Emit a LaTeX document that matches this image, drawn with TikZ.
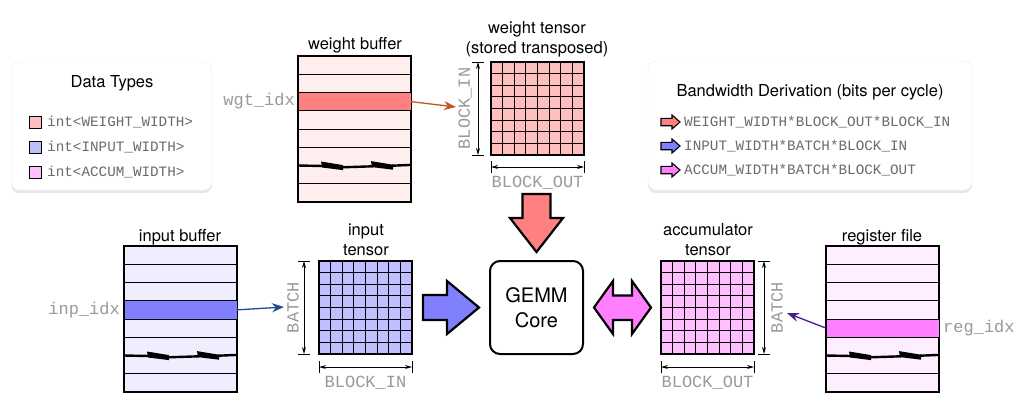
\documentclass[tikz,border=0pt]{standalone}
\usepackage{fontspec}
\setmainfont{TeX Gyre Heros}
\setmonofont{Liberation Mono}
\usetikzlibrary{calc,shadows,arrows.meta}
\definecolor{wlight}{HTML}{FFEEEE}
\definecolor{whigh}{HTML}{FF8080}
\definecolor{wcell}{HTML}{FFBFBF}
\definecolor{ilight}{HTML}{EEEEFF}
\definecolor{ihigh}{HTML}{8080FF}
\definecolor{icell}{HTML}{BFBFFF}
\definecolor{alight}{HTML}{FFEEFF}
\definecolor{ahigh}{HTML}{FF80FF}
\definecolor{acell}{HTML}{FFBFFF}
\definecolor{warrow}{HTML}{C2571A}
\definecolor{iarrow}{HTML}{1F4E8C}
\definecolor{aarrow}{HTML}{4B1A8C}
\definecolor{dimgrey}{HTML}{999999}
\definecolor{leggrey}{HTML}{6A6A6A}
\newcommand\bufbreak[1]{%
  \draw[line width=2.4pt, line cap=butt] ($(#1)$) -- ++(25,0.5);
  \fill ($(#1)+(23,-4)$) -- ++(22,3.6) -- ++(0,5) -- ++(-21,-2.6) -- cycle;
  \draw[line width=2.4pt, line cap=butt] ($(#1)+(44,1.8)$) -- ++(31,-1);
  \fill ($(#1)+(73,-4.4)$) -- ++(22,3.6) -- ++(0,5) -- ++(-21,-2.6) -- cycle;
  \draw[line width=2.4pt, line cap=butt] ($(#1)+(94,0.2)$) -- ++(19,-0.8);
}
\begin{document}
\begin{tikzpicture}[x=1pt,y=-1pt,
  buf/.style={draw, line width=1.2pt, minimum width=113pt, minimum height=146pt, inner sep=0pt, outer sep=0pt, anchor=north west},
  rowline/.style={line width=0.9pt},
  hrow/.style={draw, line width=0.9pt, minimum width=113pt, minimum height=18.25pt, inner sep=0pt, outer sep=0pt, anchor=north west},
  tensor/.style={draw, line width=1.2pt, minimum size=93pt, inner sep=0pt, outer sep=0pt, anchor=north west},
  cellline/.style={line width=0.9pt},
  dim/.style={line width=0.9pt, {Stealth[length=7pt,width=4pt]}-{Stealth[length=7pt,width=4pt]}},
  dimtick/.style={line width=0.9pt},
  dimlabel/.style={font=\ttfamily\fontsize{17}{18}\selectfont, text=dimgrey, inner sep=0pt},
  title/.style={font=\fontsize{16.5}{20}\selectfont, inner sep=0pt, align=center},
  idxlabel/.style={font=\ttfamily\fontsize{17}{18}\selectfont, text=dimgrey, inner sep=0pt},
  legtext/.style={font=\ttfamily\fontsize{14.3}{16}\selectfont, text=leggrey, inner sep=0pt, anchor=west},
  swatch/.style={draw, line width=0.9pt, minimum size=12pt, inner sep=0pt},
  panel/.style={draw=black!8, fill=white, rounded corners=8pt, drop shadow={shadow xshift=0pt, shadow yshift=-3pt, opacity=0.18}},
  bigarrow/.style={draw, line width=2.2pt, line join=miter},
  smallarrow/.style={draw, line width=1.1pt, line join=miter},
  conn/.style={line width=1.3pt, -{Stealth[length=12pt,width=9pt]}},
  gemmbox/.style={draw, line width=2pt, rounded corners=10pt, minimum width=93pt, minimum height=93pt, align=center, font=\fontsize{20}{25}\selectfont}
]
\useasboundingbox (0,0) rectangle (1024,400);

% ---------- panels ----------
\path[panel] (11,62) rectangle (212,190);
\path[panel] (648,61) rectangle (972,190);
\node[title] (dtitle) at (112,83) {Data Types};
\node[swatch, fill=wcell] (sw1) at (35,122) {};
\node[swatch, fill=icell] (sw2) at (35,147) {};
\node[swatch, fill=acell] (sw3) at (35,172) {};
\node[legtext] (lt1) at (47,122) {int<WEIGHT\_WIDTH>};
\node[legtext] (lt2) at (47,147) {int<INPUT\_WIDTH>};
\node[legtext] (lt3) at (47,172) {int<ACCUM\_WIDTH>};

\node[title] (btitle) at (810,92) {Bandwidth Derivation (bits per cycle)};
\foreach \yc/\col in {122/whigh,146/ihigh,170/ahigh}{
  \draw[smallarrow, fill=\col] (661,\yc-3.7) -- (672,\yc-3.7) -- (672,\yc-7) -- (680,\yc) -- (672,\yc+7) -- (672,\yc+3.7) -- (661,\yc+3.7) -- cycle;
}
\node[legtext] (bt1) at (684,122) {WEIGHT\_WIDTH*BLOCK\_OUT*BLOCK\_IN};
\node[legtext] (bt2) at (684,146) {INPUT\_WIDTH*BATCH*BLOCK\_IN};
\node[legtext] (bt3) at (684,170) {ACCUM\_WIDTH*BATCH*BLOCK\_OUT};

% ---------- weight buffer ----------
\node[title] (wbt) at (355,45) {weight buffer};
\node[buf, fill=wlight] (wbuf) at (298,56) {};
\foreach \k in {1,2,3,4,5,7}
  \draw[rowline] ($(wbuf.north west)+(0,\k*18.25)$) -- ++(113,0);
\node[hrow, fill=whigh] (wrow) at ($(wbuf.north west)+(0,2*18.25)$) {};
\coordinate (wbrk) at ($(wbuf.north west)+(0,6*18.25)$);
\bufbreak{wbrk}
\node[idxlabel, anchor=east] (widx) at (295,101) {wgt\_idx};

% ---------- weight tensor ----------
\node[title] (wtt) at (537,39) {weight tensor\\(stored transposed)};
\node[tensor, fill=wcell] (wt) at (491,62) {};
\foreach \k in {1,...,7}{
  \draw[cellline] ($(wt.north west)+(\k*11.625,0)$) -- ++(0,93);
  \draw[cellline] ($(wt.north west)+(0,\k*11.625)$) -- ++(93,0);
}
\draw[dim] ($(wt.north west)+(-13,0)$) -- ($(wt.south west)+(-13,0)$);
\draw[dimtick] ($(wt.north west)+(-19,0)$) -- ++(12,0);
\draw[dimtick] ($(wt.south west)+(-19,0)$) -- ++(12,0);
\node[dimlabel, rotate=90] (wtin) at (465,108.5) {BLOCK\_IN};
\draw[dim] ($(wt.south west)+(0,12)$) -- ($(wt.south east)+(0,12)$);
\draw[dimtick] ($(wt.south west)+(0,6)$) -- ++(0,12);
\draw[dimtick] ($(wt.south east)+(0,6)$) -- ++(0,12);
\node[dimlabel] (wtout) at (537.5,183) {BLOCK\_OUT};
\coordinate (wtip) at (456,107);
\draw[conn, warrow] (wrow.east) -- (wtip);

% ---------- input buffer ----------
\node[title] (ibt) at (180,237) {input buffer};
\node[buf, fill=ilight] (ibuf) at (124,246) {};
\foreach \k in {1,2,3,4,5,7}
  \draw[rowline] ($(ibuf.north west)+(0,\k*18.25)$) -- ++(113,0);
\node[hrow, fill=ihigh] (irow) at ($(ibuf.north west)+(0,3*18.25)$) {};
\coordinate (ibrk) at ($(ibuf.north west)+(0,6*18.25)$);
\bufbreak{ibrk}
\node[idxlabel, anchor=east] (iidx) at (120,310) {inp\_idx};

% ---------- input tensor ----------
\node[title] (itt) at (366,239.5) {input\\tensor};
\node[tensor, fill=icell] (it) at (319,261) {};
\foreach \k in {1,...,7}{
  \draw[cellline] ($(it.north west)+(\k*11.625,0)$) -- ++(0,93);
  \draw[cellline] ($(it.north west)+(0,\k*11.625)$) -- ++(93,0);
}
\draw[dim] ($(it.north west)+(-15,0)$) -- ($(it.south west)+(-15,0)$);
\draw[dimtick] ($(it.north west)+(-21,0)$) -- ++(12,0);
\draw[dimtick] ($(it.south west)+(-21,0)$) -- ++(12,0);
\node[dimlabel, rotate=90] (itb) at (293,307.5) {BATCH};
\draw[dim] ($(it.south west)+(0,13)$) -- ($(it.south east)+(0,13)$);
\draw[dimtick] ($(it.south west)+(0,7)$) -- ++(0,12);
\draw[dimtick] ($(it.south east)+(0,7)$) -- ++(0,12);
\node[dimlabel] (itin) at (365.5,383) {BLOCK\_IN};
\coordinate (itip) at (284,307);
\draw[conn, iarrow] (irow.east) -- (itip);

% ---------- GEMM core ----------
\node[gemmbox] (gemm) at (536.5,307.5) {GEMM\\Core};
\draw[bigarrow, fill=whigh] (522.5,194) -- (550.5,194) -- (550.5,218) -- (563,218) -- (536.5,252) -- (510,218) -- (522.5,218) -- cycle;
\draw[bigarrow, fill=ihigh] (423,295) -- (447,295) -- (447,281) -- (479,307.5) -- (447,334) -- (447,320) -- (423,320) -- cycle;
\draw[bigarrow, fill=ahigh] (594,307.5) -- (613,281) -- (613,295.5) -- (632,295.5) -- (632,281) -- (651,307.5) -- (632,334) -- (632,320) -- (613,320) -- (613,334) -- cycle;

% ---------- accumulator tensor ----------
\node[title] (att) at (708,239.5) {accumulator\\tensor};
\node[tensor, fill=acell] (at) at (661,261) {};
\foreach \k in {1,...,7}{
  \draw[cellline] ($(at.north west)+(\k*11.625,0)$) -- ++(0,93);
  \draw[cellline] ($(at.north west)+(0,\k*11.625)$) -- ++(93,0);
}
\draw[dim] ($(at.north east)+(10,0)$) -- ($(at.south east)+(10,0)$);
\draw[dimtick] ($(at.north east)+(4,0)$) -- ++(12,0);
\draw[dimtick] ($(at.south east)+(4,0)$) -- ++(12,0);
\node[dimlabel, rotate=90] (atb) at (777,307.5) {BATCH};
\draw[dim] ($(at.south west)+(0,13)$) -- ($(at.south east)+(0,13)$);
\draw[dimtick] ($(at.south west)+(0,7)$) -- ++(0,12);
\draw[dimtick] ($(at.south east)+(0,7)$) -- ++(0,12);
\node[dimlabel] (atout) at (707.5,383) {BLOCK\_OUT};

% ---------- register file ----------
\node[title] (rft) at (882,237) {register file};
\node[buf, fill=alight] (rbuf) at (826,246) {};
\foreach \k in {1,2,3,4,5,7}
  \draw[rowline] ($(rbuf.north west)+(0,\k*18.25)$) -- ++(113,0);
\node[hrow, fill=ahigh] (rrow) at ($(rbuf.north west)+(0,4*18.25)$) {};
\coordinate (rbrk) at ($(rbuf.north west)+(0,6*18.25)$);
\bufbreak{rbrk}
\node[idxlabel, anchor=west] (ridx) at (943,328) {reg\_idx};
\coordinate (rtip) at (787,313);
\draw[conn, aarrow] (rrow.west) -- (rtip);
\end{tikzpicture}
\end{document}
